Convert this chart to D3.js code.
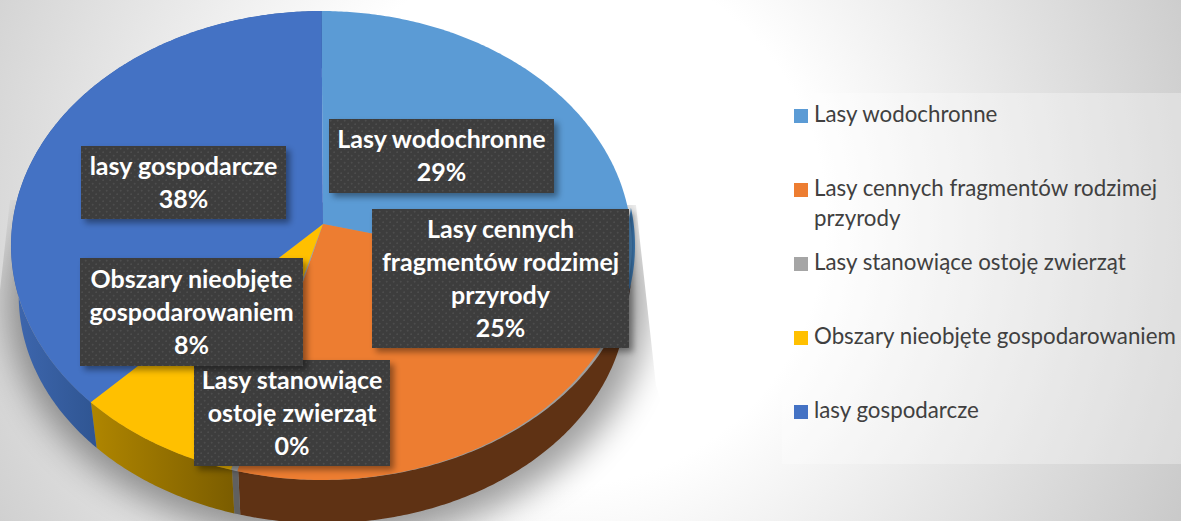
<!DOCTYPE html>
<html>
<head>
<meta charset="utf-8">
<style>
    html, body { margin: 0; padding: 0; background: #fff; overflow: hidden; }
    text { font-family: Lato, "Open Sans", sans-serif; }
</style>
<script src="https://d3js.org/d3.v7.min.js"></script>
</head>
<body>
<script>
    // chart data
    const categories = ["Lasy wodochronne", "Lasy cennych fragmentów rodzimej przyrody", "Lasy stanowiące ostoję zwierząt", "Obszary nieobjęte gospodarowaniem", "lasy gospodarcze"];
    const shares = [29, 25, 0.3, 8, 37.7];
    const topColors = ["#5b9bd5", "#ed7d31", "#a5a5a5", "#ffc000", "#4472c4"];
    const wallColors = ["#3f7cb5", "#5f3214", "#606060", "url(#wallYellow)", "url(#wallBlue)"];

    // label boxes, one per slice, and how each label is broken
    const labelLines = [["Lasy wodochronne"], ["Lasy cennych", "fragmentów rodzimej", "przyrody"], ["Lasy stanowiące", "ostoję zwierząt"], ["Obszary nieobjęte", "gospodarowaniem"], ["lasy gospodarcze"]];
    const labelBoxes = [[329, 119, 225, 74], [372, 209, 257, 139], [194, 360, 196, 106], [80, 258, 223, 108], [81, 146, 205, 73]];
    const legendLines = [["Lasy wodochronne"], ["Lasy cennych fragmentów rodzimej", "przyrody"], ["Lasy stanowiące ostoję zwierząt"], ["Obszary nieobjęte gospodarowaniem"], ["lasy gospodarcze"]];

    const width = 1181, height = 521;
    const svg = d3.select("body").append("svg").attr("width", width).attr("height", height);
    const defs = svg.append("defs");

    // background gradient
    const bg = defs.append("radialGradient").attr("id", "bg").attr("gradientUnits", "userSpaceOnUse")
        .attr("cx", 560).attr("cy", 220).attr("r", 700);
    bg.append("stop").attr("offset", 0.38).attr("stop-color", "#ffffff");
    bg.append("stop").attr("offset", 1).attr("stop-color", "#c8c8c8");

    function wallGradient(id, x1, x2, from, to) {
        const g = defs.append("linearGradient").attr("id", id).attr("gradientUnits", "userSpaceOnUse")
            .attr("x1", x1).attr("x2", x2).attr("y1", 0).attr("y2", 0);
        g.append("stop").attr("offset", 0).attr("stop-color", from);
        g.append("stop").attr("offset", 1).attr("stop-color", to);
    }
    wallGradient("wallYellow", 90, 236, "#b08600", "#7a5c00");
    wallGradient("wallBlue", 17, 96, "#3d66ad", "#2f5592");

    const dots = defs.append("pattern").attr("id", "dots").attr("patternUnits", "userSpaceOnUse").attr("width", 7).attr("height", 7);
    dots.append("rect").attr("width", 7).attr("height", 7).attr("fill", "#3d3d3d");
    dots.append("circle").attr("cx", 1.7).attr("cy", 1.7).attr("r", 0.9).attr("fill", "#4e4e4e");
    dots.append("circle").attr("cx", 5.2).attr("cy", 5.2).attr("r", 0.9).attr("fill", "#4e4e4e");

    defs.append("filter").attr("id", "blur").attr("x", "-20%").attr("y", "-20%").attr("width", "140%").attr("height", "140%")
        .append("feGaussianBlur").attr("stdDeviation", 17);
    const boxShadow = defs.append("filter").attr("id", "boxShadow").attr("x", "-10%").attr("y", "-10%").attr("width", "125%").attr("height", "125%");
    boxShadow.append("feDropShadow").attr("dx", 4).attr("dy", 4).attr("stdDeviation", 3).attr("flood-color", "#000").attr("flood-opacity", 0.4);

    // the pie shadow has hard edges left and right
    defs.append("clipPath").attr("id", "shadowClip").append("polygon")
        .attr("points", "10,200 636,205 656,385 700,521 0,521 0,290");

    svg.append("rect").attr("width", width).attr("height", height).attr("fill", "url(#bg)");

    // perspective projection of the pie disc
    const pers = 0.0917;
    function face(x0, y0, a, b) {
        return angle => {
            const u = Math.sin(angle), v = -Math.cos(angle), w = 1 - pers * v;
            return [x0 + a * u / w, y0 + b * v / w];
        };
    }
    const rimFace = face(323, 224, 310.7, 232.5);
    const topFace = face(321.5, 224, 309, 232.5);
    const lowFace = face(323, 275, 303, 225.5);
    const apex = [323, 224];
    const wallFrom = 1.5;

    const pie = d3.pie().sort(null).value(d => d);
    const slices = pie(shares);
    const line = d3.line();
    const arcAngles = (from, to) => {
        const n = Math.max(2, Math.ceil((to - from) / 0.01));
        return d3.range(n + 1).map(i => from + (to - from) * i / n);
    };

    // pie shadow
    const full = d3.range(0, 2 * Math.PI, 0.02);
    svg.append("g").attr("clip-path", "url(#shadowClip)")
        .append("path").attr("d", line(full.map(face(328, 280, 318, 238))) + "Z")
        .attr("fill", "#000").attr("opacity", 0.38).attr("filter", "url(#blur)");

    // walls, then the top face over them
    svg.append("g").selectAll("path").data(slices).enter().append("path")
        .attr("d", d => {
            const as = arcAngles(Math.max(d.startAngle, wallFrom), d.endAngle);
            return line(as.map(rimFace).concat(as.slice().reverse().map(lowFace))) + "Z";
        })
        .attr("fill", (d, i) => wallColors[i]);

    svg.append("g").selectAll("path").data(slices).enter().append("path")
        .attr("d", d => line([apex].concat(arcAngles(d.startAngle, d.endAngle).map(topFace))) + "Z")
        .attr("fill", (d, i) => topColors[i]);

    // data labels
    const pct = d3.format(".0%");
    const total = d3.sum(shares);
    const labels = svg.append("g").selectAll("g").data(slices).enter().append("g");
    labels.append("rect")
        .attr("x", (d, i) => labelBoxes[i][0]).attr("y", (d, i) => labelBoxes[i][1])
        .attr("width", (d, i) => labelBoxes[i][2]).attr("height", (d, i) => labelBoxes[i][3])
        .attr("fill", "url(#dots)").attr("filter", "url(#boxShadow)");
    labels.each(function (d, i) {
        const box = labelBoxes[i];
        const rows = labelLines[i].concat(pct(d.value / total));
        const startY = box[1] + box[3] / 2 - (rows.length - 1) * 33 / 2 + 8.5;
        d3.select(this).selectAll("text").data(rows).enter().append("text")
            .attr("x", box[0] + box[2] / 2)
            .attr("y", (r, j) => startY + j * 33)
            .attr("text-anchor", "middle")
            .attr("font-size", 25).attr("font-weight", 700).attr("fill", "#fff")
            .text(r => r);
    });

    // legend
    svg.append("rect").attr("x", 782).attr("y", 93).attr("width", 399).attr("height", 371).attr("fill", "#fff").attr("opacity", 0.3);
    const legendRowY = [109, 183, 257, 331, 405];
    const legend = svg.append("g").selectAll("g").data(categories).enter().append("g")
        .attr("transform", (d, i) => "translate(794," + legendRowY[i] + ")");
    legend.append("rect").attr("width", 14).attr("height", 14).attr("fill", (d, i) => topColors[i]);
    legend.each(function (d, i) {
        d3.select(this).selectAll("text").data(legendLines[i]).enter().append("text")
            .attr("x", 20).attr("y", (r, j) => 13 + j * 30)
            .attr("font-size", 22.3).attr("fill", "#404040")
            .text(r => r);
    });
</script>
</body>
</html>
